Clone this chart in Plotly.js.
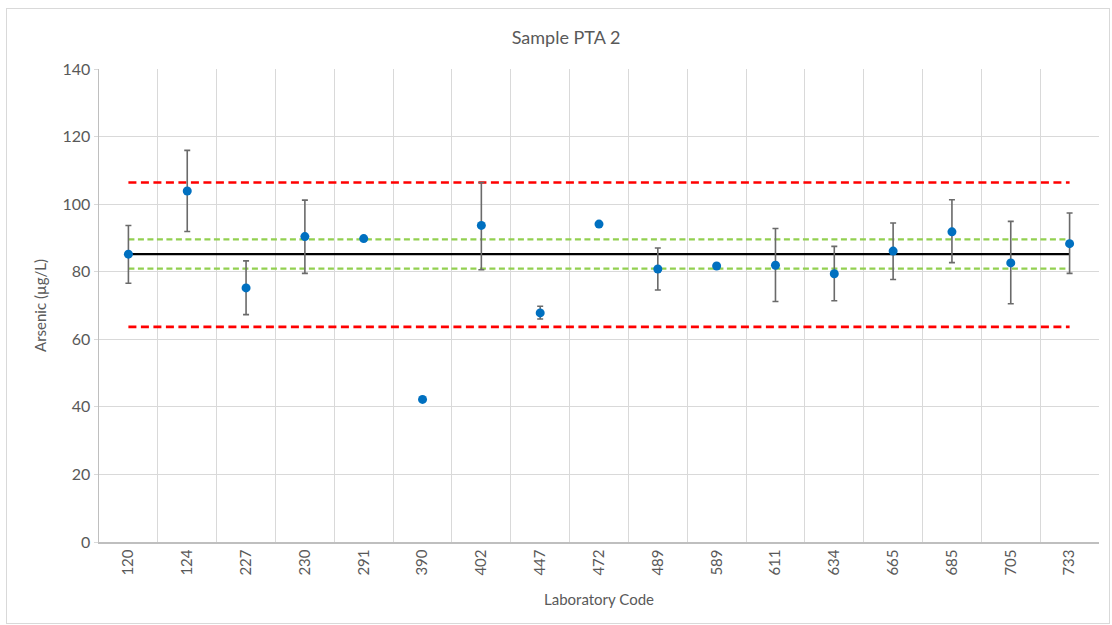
<!DOCTYPE html>
<html>
<head>
<meta charset="utf-8">
<script src="https://cdn.plot.ly/plotly-3.0.1.min.js"></script>
<style>
  html, body { margin: 0; padding: 0; background: #fff; }
  #wrap { position: relative; width: 1112px; height: 625px; }
  #chart { position: absolute; left: 0; top: 0; width: 1112px; height: 625px; }
  #frame { position: absolute; left: 6px; top: 8px; width: 1102px; height: 614px; border: 1px solid #d9d9d9; pointer-events: none; }
</style>
</head>
<body>
<div id="wrap">
  <div id="chart"></div>
  <div id="frame"></div>
</div>
<script>
// Laboratory codes (categories)
const labCodes = ["120","124","227","230","291","390","402","447","472","489","589","611","634","665","685","705","733"];
// Reported arsenic results (µg/L)
const results = [85.2, 103.9, 75.2, 90.4, 89.8, 42.2, 93.7, 67.8, 94.1, 80.8, 81.7, 81.9, 79.4, 86.1, 91.8, 82.6, 88.3];
// Upper / lower uncertainty
const errPlus  = [8.5, 12.0, 8.0, 10.8, 0, 0, 12.7, 2.0, 0, 6.2, 0, 10.9, 8.1, 8.3, 9.5, 12.3, 9.1];
const errMinus = [8.6, 12.0, 7.9, 10.9, 0, 0, 13.1, 1.8, 0, 6.2, 0, 10.7, 8.0, 8.4, 9.1, 12.1, 8.8];
// Reference lines
const assignedValue = 85.2;
const uncertaintyBand = [89.6, 80.9];
const acceptanceLimits = [106.4, 63.7];
const yTicks = [0, 20, 40, 60, 80, 100, 120, 140];

const ends = [labCodes[0], labCodes[labCodes.length - 1]];
const hline = (v, color, width, dash) => ({
  x: ends, y: [v, v], type: 'scatter', mode: 'lines',
  line: { color: color, width: width, dash: dash }, hoverinfo: 'skip', showlegend: false
});

const traces = [
  hline(acceptanceLimits[0], '#ff0000', 2.7, '8px,4.5px'),
  hline(acceptanceLimits[1], '#ff0000', 2.7, '8px,4.5px'),
  hline(uncertaintyBand[0], '#92d050', 2.3, '6px,3.5px'),
  hline(uncertaintyBand[1], '#92d050', 2.3, '6px,3.5px'),
  hline(assignedValue, '#000000', 2.3, 'solid'),
  {
    x: labCodes, y: results, type: 'scatter', mode: 'markers',
    marker: { color: '#0070c0', size: 9 },
    error_y: { type: 'data', symmetric: false, array: errPlus, arrayminus: errMinus,
               color: '#6a6a6a', thickness: 1.6, width: 3 },
    showlegend: false
  }
];

const fontFam = 'Lato, "Open Sans", sans-serif';
const layout = {
  width: 1112, height: 625,
  margin: { l: 99, r: 13, t: 69, b: 83 },
  paper_bgcolor: '#ffffff', plot_bgcolor: '#ffffff',
  font: { family: fontFam, color: '#595959' },
  title: { text: 'Sample PTA 2', font: { family: fontFam, size: 18, color: '#595959' }, x: 0.509, xanchor: 'center', y: 0.94, yanchor: 'middle' },
  showlegend: false,
  xaxis: {
    type: 'category', categoryorder: 'array', categoryarray: labCodes,
    range: [-0.5, 16.5], tickson: 'boundaries',
    tickangle: -90, tickfont: { family: fontFam, size: 15, color: '#595959' },
    showgrid: true, gridcolor: '#d9d9d9', gridwidth: 1,
    showline: true, linecolor: '#bfbfbf', linewidth: 1.5,
    ticks: '', ticklen: 0, fixedrange: true,
    title: { text: 'Laboratory Code', font: { family: fontFam, size: 15, color: '#595959' }, standoff: 20 }
  },
  yaxis: {
    range: [0, 140], tickvals: yTicks, ticktext: yTicks.map(String),
    tickfont: { family: fontFam, size: 16, color: '#595959' },
    showgrid: true, gridcolor: '#d9d9d9', gridwidth: 1,
    showline: true, linecolor: '#bfbfbf', linewidth: 1.5,
    ticks: 'outside', ticklen: 4, tickcolor: '#d9d9d9', zeroline: false, fixedrange: true,
    title: { text: 'Arsenic (µg/L)', font: { family: fontFam, size: 15, color: '#595959' }, standoff: 12 }
  }
};

Plotly.newPlot('chart', traces, layout, { displayModeBar: false, staticPlot: true });
</script>
</body>
</html>
